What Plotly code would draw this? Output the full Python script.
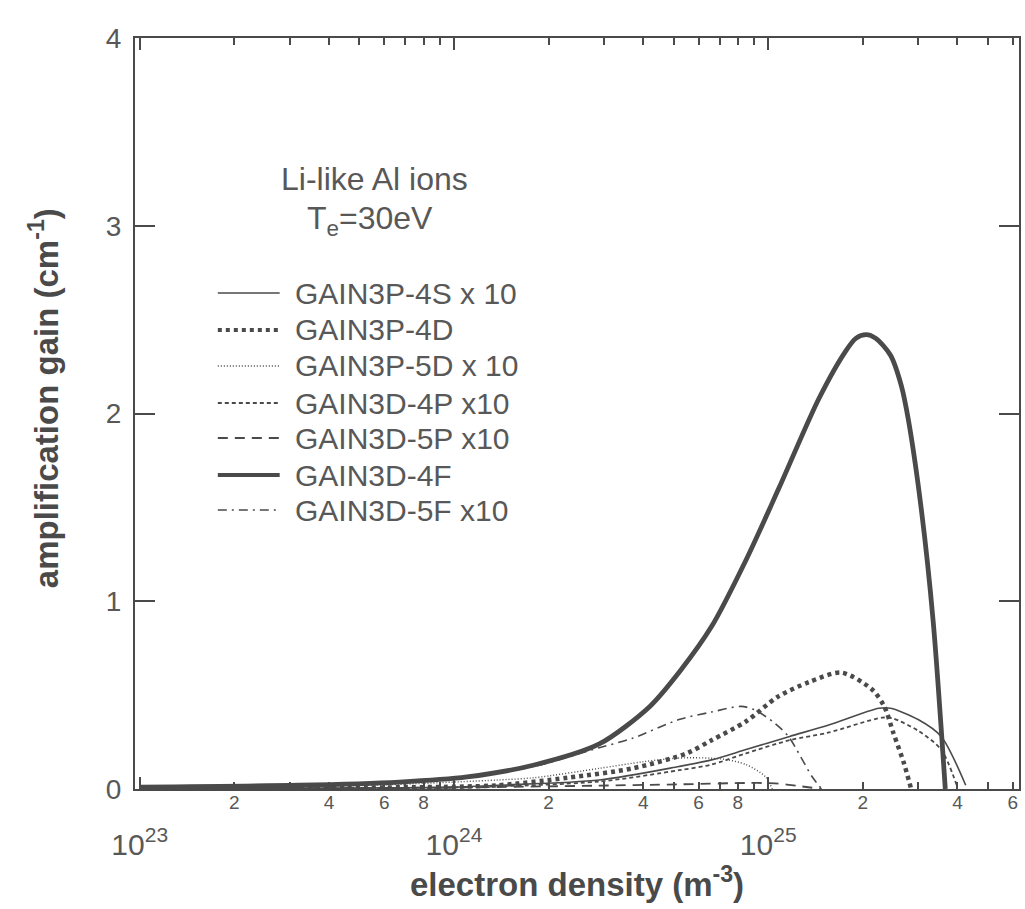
import plotly.graph_objects as go

# ---------------- data ----------------
d_3p4s = [1e23, 1e24, 1.38e24, 2.9e24, 5.2e24, 6.6e24, 8.5e24, 1.17e25, 1.55e25, 2.25e25, 2.45e25, 3.0e25, 3.55e25, 4.25e25]
g_3p4s = [0.003, 0.01, 0.02, 0.048, 0.12, 0.155, 0.21, 0.28, 0.34, 0.43, 0.43, 0.37, 0.28, 0.02]

d_3p4d = [1e23, 1e24, 1.38e24, 2.3e24, 3.7e24, 5.5e24, 6.6e24, 8.5e24, 1.07e25, 1.35e25, 1.71e25, 2.14e25, 2.34e25, 2.5e25, 2.7e25, 2.85e25]
g_3p4d = [0.003, 0.012, 0.02, 0.06, 0.11, 0.19, 0.26, 0.36, 0.49, 0.57, 0.62, 0.53, 0.44, 0.30, 0.14, 0.0]

d_3p5d = [1e23, 3.2e23, 6.7e23, 1.38e24, 1.8e24, 2.9e24, 4.0e24, 5.2e24, 7.1e24, 8.5e24, 9.8e24, 1.03e25]
g_3p5d = [0.005, 0.012, 0.025, 0.048, 0.06, 0.11, 0.145, 0.165, 0.16, 0.13, 0.065, 0.0]

d_3d4p = [1e23, 1e24, 2.9e24, 5.2e24, 6.6e24, 8.5e24, 1.17e25, 1.55e25, 2.3e25, 2.5e25, 3.0e25, 3.55e25, 3.98e25]
g_3d4p = [0.002, 0.008, 0.04, 0.10, 0.13, 0.19, 0.26, 0.30, 0.38, 0.375, 0.31, 0.21, 0.02]

d_3d5p = [1e23, 1e24, 2.9e24, 5.25e24, 8.5e24, 1.05e25, 1.26e25, 1.48e25]
g_3d5p = [0.002, 0.008, 0.018, 0.025, 0.032, 0.03, 0.015, 0.0]

d_3d4f = [1e23, 3.2e23, 6.7e23, 1.1e24, 1.8e24, 2.9e24, 4.2e24, 5.25e24, 6.6e24, 8.5e24, 1.08e25,
          1.45e25, 1.76e25, 1.9e25, 2.05e25, 2.2e25, 2.45e25, 2.65e25, 2.79e25, 3.07e25, 3.35e25, 3.66e25]
g_3d4f = [0.01, 0.02, 0.037, 0.064, 0.128, 0.24, 0.44, 0.63, 0.865, 1.22, 1.6,
          2.08, 2.33, 2.40, 2.42, 2.40, 2.31, 2.15, 1.97, 1.49, 0.89, 0.0]

d_3d5f = [1e23, 3.2e23, 6.7e23, 1.1e24, 1.8e24, 2.9e24, 3.7e24, 5.2e24, 6.6e24, 8.2e24, 9.1e24, 1.05e25, 1.16e25, 1.27e25, 1.38e25, 1.48e25]
g_3d5f = [0.008, 0.018, 0.035, 0.06, 0.12, 0.22, 0.27, 0.37, 0.41, 0.44, 0.42, 0.35, 0.28, 0.17, 0.065, 0.0]

series_names = ["GAIN3P-4S x 10", "GAIN3P-4D", "GAIN3P-5D x 10", "GAIN3D-4P x10",
                "GAIN3D-5P x10", "GAIN3D-4F", "GAIN3D-5F x10"]
series_x = [d_3p4s, d_3p4d, d_3p5d, d_3d4p, d_3d5p, d_3d4f, d_3d5f]
series_y = [g_3p4s, g_3p4d, g_3p5d, g_3d4p, g_3d5p, g_3d4f, g_3d5f]

decade_vals = [1e23, 1e24, 1e25]
decade_text = ["10<sup>23</sup>", "10<sup>24</sup>", "10<sup>25</sup>"]
digit_vals = [2e23, 4e23, 6e23, 8e23, 2e24, 4e24, 6e24, 8e24, 2e25, 4e25, 6e25]
digit_text = ["2", "4", "6", "8", "2", "4", "6", "8", "2", "4", "6"]
minor_vals = [float(m) * 10.0 ** e for e in (23, 24, 25) for m in range(2, 10) if m * 10.0 ** e < 6.5e25]
y_tick_vals = [0, 1, 2, 3, 4]

# ---------------- styles ----------------
INK = "#4a4a4a"
TXT = "#585858"
FONT = "Liberation Sans, Arial"
styles = [
    dict(width=1.6, dash="solid"),
    dict(width=4.5, dash="4px,4px"),
    dict(width=1.4, dash="1px,2px"),
    dict(width=1.8, dash="4px,3px"),
    dict(width=1.8, dash="10px,7px"),
    dict(width=4.8, dash="solid"),
    dict(width=1.6, dash="9px,5px,2px,5px"),
]

W, H = 1025, 909
L, R, T, B = 135, 1021, 38, 789

fig = go.Figure()
for nm, xs, ys, st in zip(series_names, series_x, series_y, styles):
    fig.add_trace(go.Scatter(x=xs, y=ys, mode="lines", name=nm, showlegend=False,
                             line=dict(color=INK, width=st["width"], dash=st["dash"],
                                       shape="spline", smoothing=0.8)))
# empty trace so the digit-label axis is drawn
fig.add_trace(go.Scatter(x=[], y=[], xaxis="x2", showlegend=False, hoverinfo="skip"))

def px_x(p):
    return (p - L) / (R - L)

def px_y(p):
    return (B - p) / (B - T)

# manual legend (line samples + text)
leg_rows = [293, 330, 366, 403, 438, 475, 510]
for nm, st, yy in zip(series_names, styles, leg_rows):
    fig.add_shape(type="line", xref="paper", yref="paper",
                  x0=px_x(218), x1=px_x(280), y0=px_y(yy), y1=px_y(yy),
                  line=dict(color=INK, width=st["width"] * (0.85 if st["width"] > 3 else 1), dash=st["dash"]))
    fig.add_annotation(xref="paper", yref="paper", x=px_x(293), y=px_y(yy), text=nm,
                       showarrow=False, xanchor="left", yanchor="middle",
                       font=dict(family=FONT, size=30, color=TXT))

fig.add_annotation(xref="paper", yref="paper", x=px_x(375), y=px_y(179), text="Li-like Al ions",
                   showarrow=False, xanchor="center", yanchor="middle",
                   font=dict(family=FONT, size=32, color=TXT))
fig.add_annotation(xref="paper", yref="paper", x=px_x(371), y=px_y(220), text="T<sub>e</sub>=30eV",
                   showarrow=False, xanchor="center", yanchor="middle",
                   font=dict(family=FONT, size=32, color=TXT))

# y-axis title
fig.add_annotation(xref="paper", yref="paper", x=px_x(44), y=px_y(398),
                   text="<b>amplification gain (cm<sup>-1</sup>)</b>", textangle=-90,
                   showarrow=False, xanchor="center", yanchor="middle",
                   font=dict(family=FONT, size=33, color="#4a4a4a"))

fig.update_layout(
    width=W, height=H, autosize=False,
    margin=dict(l=L, r=W - R, t=T, b=H - B),
    paper_bgcolor="white", plot_bgcolor="white",
    font=dict(family=FONT, color=TXT),
    xaxis=dict(
        type="log", range=[22.985, 25.798],
        tickmode="array", tickvals=decade_vals, ticktext=decade_text,
        ticks="inside", ticklen=12, tickwidth=2, tickcolor=INK,
        showline=True, linecolor=INK, linewidth=2, mirror="ticks",
        showgrid=False, zeroline=False,
        minor=dict(tickmode="array", tickvals=minor_vals, ticks="inside", ticklen=7,
                   tickwidth=1.5, tickcolor=INK, showgrid=False),
        tickfont=dict(size=30, color=TXT),
        ticklabelstandoff=28,
        title=dict(text="<b>electron density (m<sup>-3</sup>)</b>", standoff=4,
                   font=dict(size=33, color="#4a4a4a")),
    ),
    xaxis2=dict(
        type="log", range=[22.985, 25.798], overlaying="x", anchor="y", side="bottom",
        tickmode="array", tickvals=digit_vals, ticktext=digit_text,
        ticks="", showline=False, showgrid=False, zeroline=False,
        tickfont=dict(size=19, color=TXT),
    ),
    yaxis=dict(
        range=[0, 4], tickmode="array", tickvals=y_tick_vals,
        ticks="inside", ticklen=20, tickwidth=1.5, tickcolor=INK,
        showline=True, linecolor=INK, linewidth=2, mirror="ticks",
        showgrid=False, zeroline=False,
        tickfont=dict(size=28, color=TXT),
        ticklabelstandoff=6,
    ),
)

fig.write_html("out.html")
